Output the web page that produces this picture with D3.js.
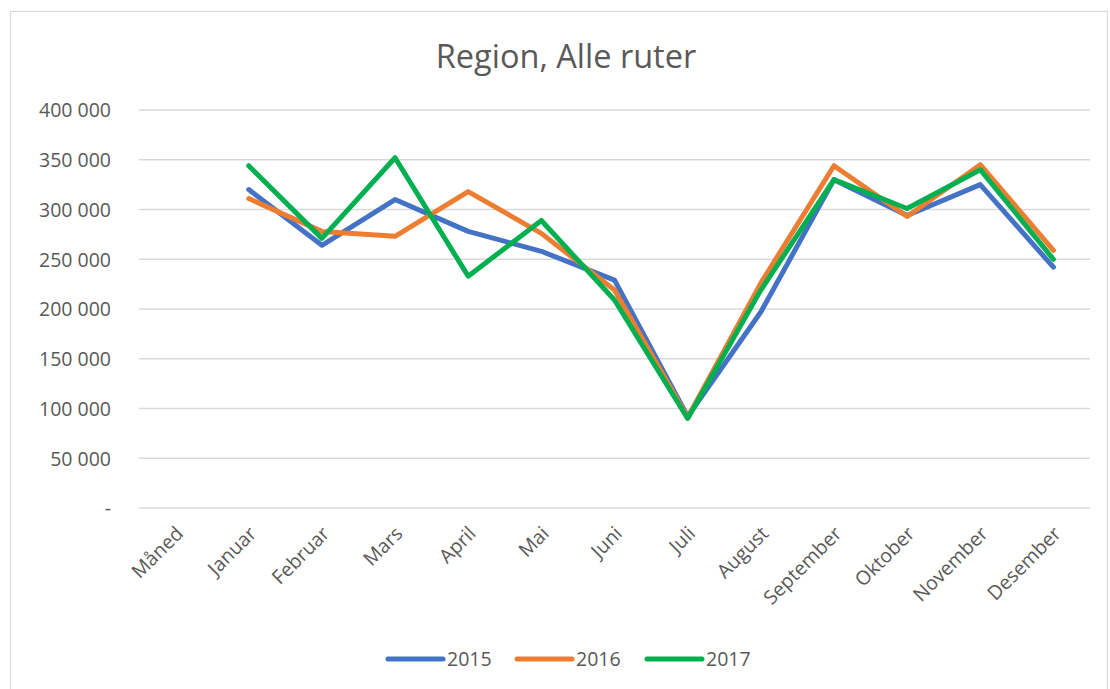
<!DOCTYPE html>
<html>
<head>
<meta charset="utf-8">
<script src="https://cdn.jsdelivr.net/npm/d3@7"></script>
<style>
  body { margin: 0; background: #fff; }
  text { font-family: "Open Sans", "Liberation Sans", sans-serif; fill: #595959; }
</style>
</head>
<body>
<div id="chart"></div>
<script>
var months = ["Måned", "Januar", "Februar", "Mars", "April", "Mai", "Juni", "Juli",
  "August", "September", "Oktober", "November", "Desember"];
var seriesNames = ["2015", "2016", "2017"];
var values2015 = [null, 320000, 264000, 310000, 278000, 258000, 229000, 92000, 197000, 330000, 294000, 325000, 242000];
var values2016 = [null, 311000, 278000, 273000, 318000, 276000, 219000, 91000, 226000, 344000, 293000, 345000, 259000];
var values2017 = [null, 344000, 271000, 352000, 233000, 289000, 209000, 90000, 219000, 330000, 301000, 340000, 250000];
var yTicks = [0, 50000, 100000, 150000, 200000, 250000, 300000, 350000, 400000];
var colors = ["#4472C4", "#ED7D31", "#00B050"];

var width = 1110, height = 689;

var svg = d3.select("#chart").append("svg")
  .attr("width", width)
  .attr("height", height);

// chart frame
svg.append("rect")
  .attr("x", 10.5).attr("y", 11.5)
  .attr("width", 1097).attr("height", 680)
  .attr("fill", "#fff")
  .attr("stroke", "#d9d9d9")
  .attr("stroke-width", 1.2);

svg.append("text")
  .attr("x", 566).attr("y", 68)
  .attr("text-anchor", "middle")
  .style("font-size", "32.5px")
  .text("Region, Alle ruter");

var x = d3.scaleBand()
  .domain(months)
  .range([139, 1090]);

var y = d3.scaleLinear()
  .domain([0, 400000])
  .range([508, 110]);

var fmt = function (v) {
  return v === 0 ? "-" : d3.format(",")(v).replace(/,/g, " ");
};

// gridlines
svg.append("g")
  .selectAll("line")
  .data(yTicks)
  .enter().append("line")
  .attr("x1", 139).attr("x2", 1090)
  .attr("y1", function (d) { return y(d); })
  .attr("y2", function (d) { return y(d); })
  .attr("stroke", "#d9d9d9")
  .attr("stroke-width", 1.3);

// y axis labels
var yAxis = svg.append("g")
  .attr("transform", "translate(111,0)")
  .call(d3.axisLeft(y).tickValues(yTicks).tickSize(0).tickPadding(0).tickFormat(fmt));
yAxis.select(".domain").remove();
yAxis.selectAll("text")
  .attr("dy", "0.35em")
  .style("font-size", "19.5px")
  .style("font-family", "'Open Sans', sans-serif")
  .attr("fill", "#595959");

// x axis labels, rotated
var xAxis = svg.append("g")
  .attr("transform", "translate(0,508)")
  .call(d3.axisBottom(x).tickSize(0).tickPadding(0));
xAxis.select(".domain").remove();
xAxis.selectAll("text")
  .attr("text-anchor", "end")
  .attr("transform", "translate(4,22) rotate(-45)")
  .attr("dy", "0.35em")
  .attr("y", 0)
  .style("font-size", "19.5px")
  .style("font-family", "'Open Sans', sans-serif")
  .attr("fill", "#595959");

var line = d3.line()
  .defined(function (d) { return d.v !== null; })
  .x(function (d) { return x(d.m) + x.bandwidth() / 2; })
  .y(function (d) { return y(d.v); });

var allSeries = [values2015, values2016, values2017];
allSeries.forEach(function (vals, i) {
  var pts = months.map(function (m, j) { return { m: m, v: vals[j] }; });
  svg.append("path")
    .datum(pts)
    .attr("fill", "none")
    .attr("stroke", colors[i])
    .attr("stroke-width", 5)
    .attr("stroke-linejoin", "round")
    .attr("stroke-linecap", "round")
    .attr("d", line);
});

// legend
var legend = svg.append("g");
var legX = [388, 517, 647];
seriesNames.forEach(function (name, i) {
  legend.append("line")
    .attr("x1", legX[i]).attr("x2", legX[i] + 55)
    .attr("y1", 659).attr("y2", 659)
    .attr("stroke", colors[i])
    .attr("stroke-width", 5)
    .attr("stroke-linecap", "round");
  legend.append("text")
    .attr("x", legX[i] + 59).attr("y", 666)
    .style("font-size", "19.5px")
    .text(name);
});
</script>
</body>
</html>
